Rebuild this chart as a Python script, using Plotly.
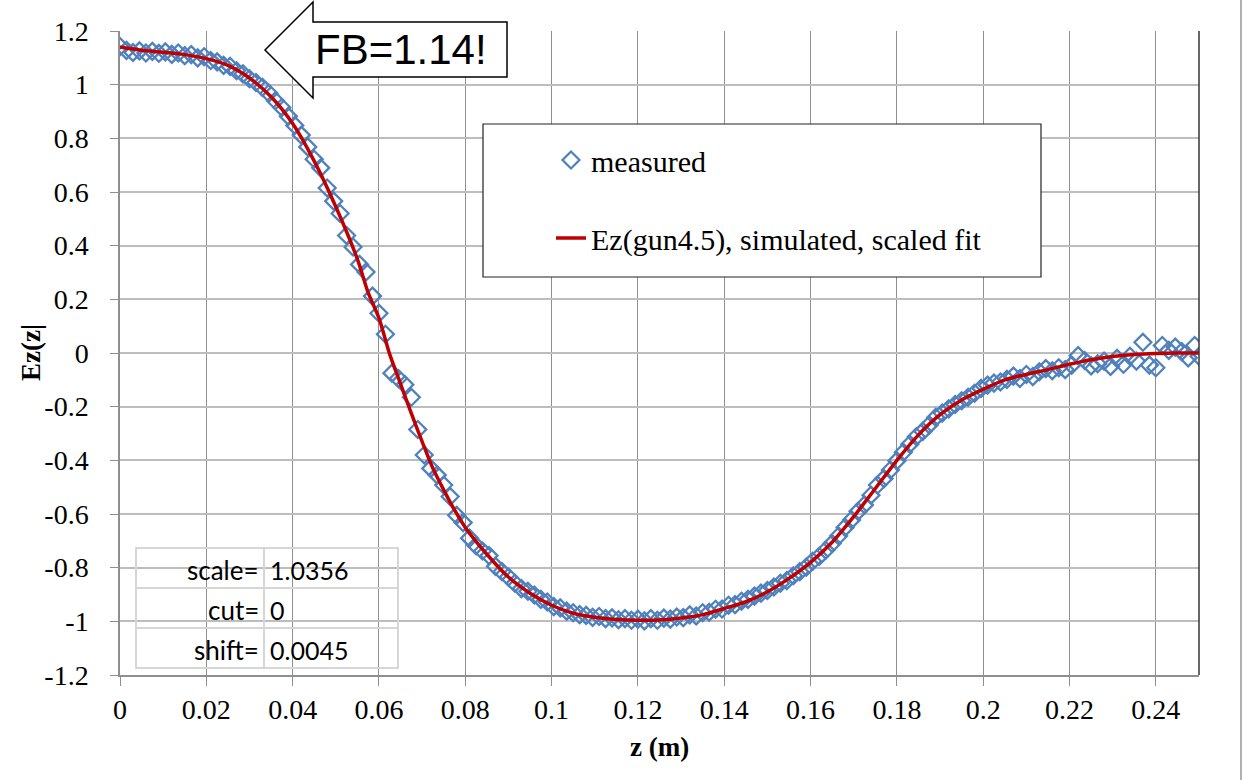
import plotly.graph_objects as go

# ---------------- data ----------------
meas_z = [0.0000, 0.0015, 0.0030, 0.0045, 0.0060, 0.0075, 0.0090, 0.0105, 0.0120, 0.0135,
          0.0150, 0.0165, 0.0180, 0.0195, 0.0210, 0.0225, 0.0240, 0.0255, 0.0270, 0.0285,
          0.0300, 0.0315, 0.0330, 0.0345, 0.0360, 0.0375, 0.0390, 0.0405, 0.0420, 0.0435,
          0.0450, 0.0465, 0.0480, 0.0495, 0.0510, 0.0525, 0.0540, 0.0555, 0.0570, 0.0585,
          0.0600, 0.0615, 0.0630, 0.0645, 0.0660, 0.0675, 0.0690, 0.0705, 0.0720, 0.0735,
          0.0750, 0.0765, 0.0780, 0.0795, 0.0810, 0.0825, 0.0840, 0.0855, 0.0870, 0.0885,
          0.0900, 0.0915, 0.0930, 0.0945, 0.0960, 0.0975, 0.0990, 0.1005, 0.1020, 0.1035,
          0.1050, 0.1065, 0.1080, 0.1095, 0.1110, 0.1125, 0.1140, 0.1155, 0.1170, 0.1185,
          0.1200, 0.1215, 0.1230, 0.1245, 0.1260, 0.1275, 0.1290, 0.1305, 0.1320, 0.1335,
          0.1350, 0.1365, 0.1380, 0.1395, 0.1410, 0.1425, 0.1440, 0.1455, 0.1470, 0.1485,
          0.1500, 0.1515, 0.1530, 0.1545, 0.1560, 0.1575, 0.1590, 0.1605, 0.1620, 0.1635,
          0.1650, 0.1665, 0.1680, 0.1695, 0.1710, 0.1725, 0.1740, 0.1755, 0.1770, 0.1785,
          0.1800, 0.1815, 0.1830, 0.1845, 0.1860, 0.1875, 0.1890, 0.1905, 0.1920, 0.1935,
          0.1950, 0.1965, 0.1980, 0.1995, 0.2010, 0.2025, 0.2040, 0.2055, 0.2070, 0.2085,
          0.2100, 0.2115, 0.2130, 0.2145, 0.2160, 0.2175, 0.2190, 0.2205, 0.2220, 0.2235,
          0.2250, 0.2265, 0.2280, 0.2295, 0.2310, 0.2325, 0.2340, 0.2355, 0.2370, 0.2385,
          0.2400, 0.2415, 0.2430, 0.2445, 0.2460, 0.2475, 0.2490, 0.2500]
meas_ez = [1.142, 1.128, 1.120, 1.126, 1.118, 1.124, 1.117, 1.122, 1.113, 1.118,
           1.108, 1.112, 1.100, 1.104, 1.090, 1.085, 1.072, 1.068, 1.052, 1.040,
           1.022, 1.008, 0.990, 0.968, 0.940, 0.915, 0.882, 0.848, 0.812, 0.768,
           0.722, 0.690, 0.615, 0.566, 0.520, 0.438, 0.395, 0.330, 0.302, 0.212,
           0.148, 0.070, -0.075, -0.095, -0.118, -0.165, -0.285, -0.380, -0.430, -0.455,
           -0.492, -0.535, -0.605, -0.632, -0.690, -0.718, -0.738, -0.755, -0.795, -0.815,
           -0.835, -0.858, -0.878, -0.888, -0.902, -0.918, -0.928, -0.945, -0.950, -0.962,
           -0.968, -0.975, -0.978, -0.985, -0.982, -0.990, -0.987, -0.994, -0.990, -0.996,
           -0.992, -0.998, -0.990, -0.996, -0.988, -0.992, -0.984, -0.986, -0.976, -0.980,
           -0.968, -0.966, -0.955, -0.954, -0.940, -0.938, -0.925, -0.918, -0.906, -0.895,
           -0.885, -0.872, -0.858, -0.848, -0.830, -0.815, -0.798, -0.776, -0.758, -0.735,
           -0.710, -0.682, -0.650, -0.622, -0.590, -0.566, -0.530, -0.492, -0.468, -0.436,
           -0.402, -0.370, -0.340, -0.312, -0.292, -0.268, -0.240, -0.224, -0.208, -0.192,
           -0.178, -0.165, -0.150, -0.132, -0.120, -0.112, -0.108, -0.098, -0.086, -0.095,
           -0.080, -0.088, -0.070, -0.058, -0.066, -0.055, -0.062, -0.045, -0.010, -0.028,
           -0.048, -0.040, -0.030, -0.050, -0.020, -0.042, -0.012, -0.030, 0.040, -0.045,
           -0.055, 0.028, 0.010, 0.022, 0.005, -0.018, 0.028, -0.012]

fit_z = [0, 0.005, 0.01, 0.015, 0.02, 0.025, 0.03, 0.035, 0.04, 0.045, 0.05, 0.055, 0.0575,
         0.06, 0.0625, 0.065, 0.0675, 0.07, 0.0725, 0.075, 0.0775, 0.08, 0.085, 0.09, 0.095,
         0.1, 0.105, 0.11, 0.115, 0.12, 0.125, 0.13, 0.135, 0.14, 0.145, 0.15, 0.155, 0.16,
         0.165, 0.17, 0.175, 0.18, 0.185, 0.19, 0.195, 0.2, 0.205, 0.21, 0.215, 0.22, 0.225,
         0.23, 0.235, 0.24, 0.245, 0.25]
fit_ez = [1.14, 1.128, 1.121, 1.112, 1.097, 1.072, 1.025, 0.955, 0.855, 0.715, 0.545, 0.35, 0.225,
          0.13, -0.005, -0.115, -0.225, -0.33, -0.43, -0.51, -0.585, -0.65, -0.75, -0.835, -0.895,
          -0.94, -0.97, -0.985, -0.993, -0.996, -0.995, -0.988, -0.975, -0.952, -0.927, -0.89, -0.84, -0.78,
          -0.705, -0.61, -0.505, -0.4, -0.305, -0.23, -0.175, -0.135, -0.1, -0.08, -0.062, -0.042, -0.025,
          -0.013, -0.006, -0.002, 0.0, 0.0]

x_tick_vals = [0, 0.02, 0.04, 0.06, 0.08, 0.1, 0.12, 0.14, 0.16, 0.18, 0.2, 0.22, 0.24]
x_tick_text = ["0", "0.02", "0.04", "0.06", "0.08", "0.1", "0.12", "0.14", "0.16", "0.18", "0.2", "0.22", "0.24"]
y_tick_vals = [1.2, 1.0, 0.8, 0.6, 0.4, 0.2, 0.0, -0.2, -0.4, -0.6, -0.8, -1.0, -1.2]
y_tick_text = ["1.2", "1", "0.8", "0.6", "0.4", "0.2", "0", "-0.2", "-0.4", "-0.6", "-0.8", "-1", "-1.2"]

series_names = ["measured", "Ez(gun4.5), simulated, scaled fit"]
table_labels = ["scale=", "cut=", "shift="]
table_values = ["1.0356", "0", "0.0045"]
callout_text = "FB=1.14!"

# ---------------- layout helpers ----------------
W, H = 1243, 780
PL, PR, PT, PB = 120, 1199, 31, 675


def px(x):
    return (x - PL) / (PR - PL)


def py(y):
    return (PB - y) / (PB - PT)


SERIF = "Liberation Serif, Times New Roman, serif"
TABLE_FONT = "Lato, Carlito, sans-serif"

fig = go.Figure()
fig.add_trace(go.Scatter(
    x=meas_z, y=meas_ez, mode="markers", name=series_names[0], legendgroup="a",
    marker=dict(symbol="diamond-open", size=13, color="#4F81BD", line=dict(width=2.3, color="#4F81BD")),
))
fig.add_trace(go.Scatter(
    x=fit_z, y=fit_ez, mode="lines", name=series_names[1], legendgroup="b",
    line=dict(color="#C00000", width=3.5, shape="spline", smoothing=0.8),
))

shapes = []
# legend box
shapes.append(dict(type="rect", xref="paper", yref="paper", x0=px(483), x1=px(1041), y0=py(124), y1=py(277),
                   line=dict(color="#222222", width=1.2), fillcolor="white", layer="above"))
# right plot border
shapes.append(dict(type="line", xref="paper", yref="paper", x0=1, x1=1, y0=0, y1=1,
                   line=dict(color="#333333", width=1.5), layer="above"))
# outer frame line at far right
shapes.append(dict(type="line", xref="paper", yref="paper", x0=px(1241), x1=px(1241), y0=py(0), y1=py(780),
                   line=dict(color="#b0b0b0", width=2), layer="above"))
# table grid
tc = "#d6d6d6"
shapes.append(dict(type="rect", xref="paper", yref="paper", x0=px(136), x1=px(398), y0=py(548), y1=py(668),
                   line=dict(color=tc, width=2), layer="above"))
shapes.append(dict(type="line", xref="paper", yref="paper", x0=px(264), x1=px(264), y0=py(548), y1=py(668),
                   line=dict(color=tc, width=2), layer="above"))
for yy in (588, 628):
    shapes.append(dict(type="line", xref="paper", yref="paper", x0=px(136), x1=px(398), y0=py(yy), y1=py(yy),
                       line=dict(color=tc, width=2), layer="above"))
# callout arrow (left-pointing block arrow)
pts = [(265, 50), (313, 2), (313, 22), (507, 22), (507, 77), (313, 77), (313, 98)]
path = "M " + " L ".join(f"{px(a):.5f},{py(b):.5f}" for a, b in pts) + " Z"
shapes.append(dict(type="path", xref="paper", yref="paper", path=path,
                   line=dict(color="black", width=1.5), fillcolor="white", layer="above"))

annotations = []
annotations.append(dict(text=callout_text, xref="paper", yref="paper", x=px(401), y=py(50),
                        xanchor="center", yanchor="middle", showarrow=False,
                        font=dict(family="Liberation Sans, Arial, sans-serif", size=42, color="black")))
annotations.append(dict(text="<b>z (m)</b>", xref="paper", yref="paper", x=px(659), y=py(747),
                        xanchor="center", yanchor="middle", showarrow=False,
                        font=dict(family=SERIF, size=27, color="black")))
annotations.append(dict(text="<b>Ez(z|</b>", xref="paper", yref="paper", x=px(31), y=py(353),
                        xanchor="center", yanchor="middle", showarrow=False, textangle=-90,
                        font=dict(family=SERIF, size=27, color="black")))
row_y = [570, 610, 650]
for lab, val, yy in zip(table_labels, table_values, row_y):
    annotations.append(dict(text=lab, xref="paper", yref="paper", x=px(261), y=py(yy),
                            xanchor="right", yanchor="middle", showarrow=False,
                            font=dict(family=TABLE_FONT, size=26, color="black")))
    annotations.append(dict(text=val, xref="paper", yref="paper", x=px(268), y=py(yy),
                            xanchor="left", yanchor="middle", showarrow=False,
                            font=dict(family=TABLE_FONT, size=25, color="black")))

fig.update_layout(
    width=W, height=H,
    margin=dict(l=PL, r=W - PR, t=PT, b=H - PB, pad=0),
    paper_bgcolor="white", plot_bgcolor="white",
    showlegend=True,
    legend=dict(x=px(551), y=py(134), xanchor="left", yanchor="top",
                bgcolor="rgba(0,0,0,0)", borderwidth=0, traceorder="grouped", tracegroupgap=36,
                font=dict(family=SERIF, size=30, color="black")),
    shapes=shapes, annotations=annotations,
    xaxis=dict(range=[0, 0.25], tickvals=x_tick_vals, ticktext=x_tick_text,
               showgrid=True, gridcolor="#8f8f8f", gridwidth=1, zeroline=False,
               showline=True, linecolor="#8f8f8f", linewidth=1.5,
               ticks="outside", ticklen=9, tickcolor="#8f8f8f", tickwidth=1,
               ticklabelstandoff=0,
               tickfont=dict(family=SERIF, size=28, color="black")),
    yaxis=dict(range=[-1.2, 1.2], tickvals=y_tick_vals, ticktext=y_tick_text,
               showgrid=True, gridcolor="#bdbdbd", gridwidth=1.5, zeroline=False,
               showline=True, linecolor="#8f8f8f", linewidth=1.5,
               ticks="outside", ticklen=8, tickcolor="#8f8f8f", tickwidth=1,
               ticklabelstandoff=16,
               tickfont=dict(family=SERIF, size=28, color="black")),
)

fig.write_html("out.html")
